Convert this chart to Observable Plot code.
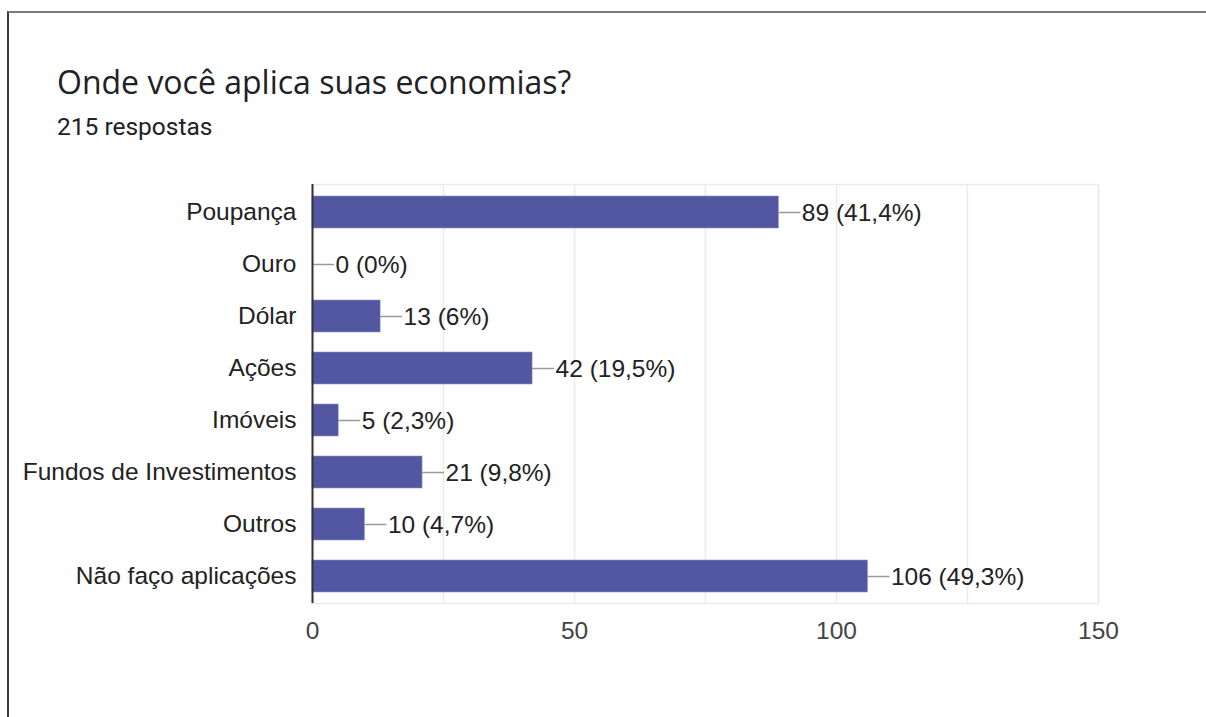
<!DOCTYPE html>
<html>
<head>
<meta charset="utf-8">
<script src="https://cdn.jsdelivr.net/npm/d3@7"></script>
<script src="https://cdn.jsdelivr.net/npm/@observablehq/plot@0.6"></script>
<style>
  html, body { margin: 0; padding: 0; background: #fff; }
  #card {
    position: absolute; left: 7px; top: 11px; width: 1199px; height: 706px;
    border-top: 2px solid #7a7a7a; border-left: 2px solid #3c3c3c; box-sizing: border-box;
  }
  #title {
    position: absolute; left: 57px; top: 60px; margin: 0;
    font: 400 32px "Open Sans", Roboto, sans-serif; color: #202124; letter-spacing: 0;
  }
  #subtitle {
    position: absolute; left: 57px; top: 112px; margin: 0;
    font: 400 24.5px Roboto, sans-serif; color: #202124;
  }
  #chart { position: absolute; left: 0; top: 150px; }
  #chart svg text { font-family: "Liberation Sans", Arial, sans-serif; }
</style>
</head>
<body>
<div id="card"></div>
<div id="title">Onde você aplica suas economias?</div>
<div id="subtitle">215 respostas</div>
<div id="chart"></div>
<script>
// Answers to the question, in the order they appear in the form
const categories = ["Poupança", "Ouro", "Dólar", "Ações", "Imóveis", "Fundos de Investimentos", "Outros", "Não faço aplicações"];
const counts = [89, 0, 13, 42, 5, 21, 10, 106];
const percents = ["41,4%", "0%", "6%", "19,5%", "2,3%", "9,8%", "4,7%", "49,3%"];
const xTicks = [0, 50, 100, 150];
const gridTicks = [0, 25, 50, 75, 100, 125, 150];

const rows = categories.map((c, i) => ({category: c, count: counts[i], label: `${counts[i]} (${percents[i]})`}));

const width = 1206, height = 540;
const marginLeft = 312, marginRight = 108, marginTop = 34, marginBottom = 87;
const xMax = 150;
const fs = 24.5;
// leader line length, 22px, expressed in data units of the x scale
const leader = 22 * xMax / (width - marginLeft - marginRight);

const chart = Plot.plot({
  width, height, marginLeft, marginRight, marginTop, marginBottom,
  style: {fontSize: `${fs}px`, background: "transparent"},
  x: {domain: [0, xMax], ticks: xTicks, tickSize: 0, tickPadding: 18, label: null},
  y: {domain: categories, paddingInner: 0.39, paddingOuter: 0.195, tickSize: 0, tickPadding: 16, label: null},
  marks: [
    Plot.gridX(gridTicks, {stroke: "#ebebeb", strokeOpacity: 1, strokeWidth: 1.5}),
    Plot.frame({stroke: "#ebebeb", strokeWidth: 1.5}),
    Plot.axisX({ticks: xTicks, tickSize: 0, tickPadding: 18, fill: "#444", fontSize: fs, label: null}),
    Plot.axisY({tickSize: 0, tickPadding: 16, fill: "#222", fontSize: fs, label: null}),
    Plot.barX(rows, {y: "category", x: "count", fill: "#5356a0", stroke: "#8f92c8", strokeWidth: 0.6}),
    Plot.ruleY(rows, {y: "category", x1: "count", x2: d => d.count + leader, stroke: "#9a9a9a", strokeWidth: 1.5}),
    Plot.text(rows, {y: "category", x: d => d.count + leader, text: "label", textAnchor: "start", dx: 1, dy: 1, fill: "#222", fontSize: fs}),
    Plot.ruleX([0], {stroke: "#333", strokeWidth: 2})
  ]
});
document.getElementById("chart").appendChild(chart);
</script>
</body>
</html>
